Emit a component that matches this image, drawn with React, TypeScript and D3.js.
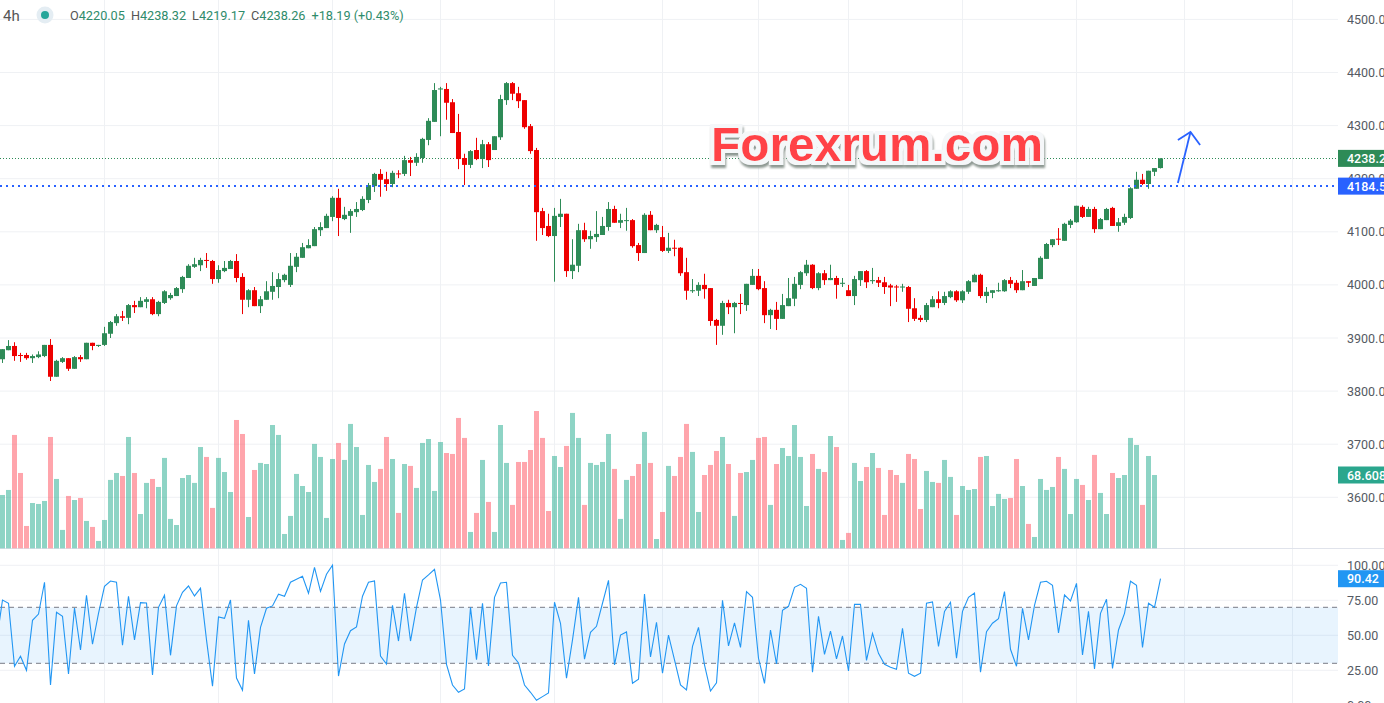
import React, { useEffect, useRef } from "react"
import * as d3 from "d3"

// 4h candles
const opens = [3860,3877,3885,3868,3868,3862,3864,3866,3887,3827,3855,3862,3842,3864,3860,3891,3885,3887,3908,3928,3941,3938,3962,3958,3968,3973,3945,3966,3975,3979,3992,4013,4034,4037,4047,4045,4011,4026,4030,4045,4015,3972,3990,3960,3972,3987,3996,4009,4000,4034,4051,4069,4073,4103,4107,4128,4164,4124,4130,4137,4141,4160,4186,4209,4199,4190,4210,4209,4235,4230,4239,4273,4307,4368,4369,4344,4288,4239,4226,4254,4237,4265,4254,4278,4348,4380,4361,4348,4299,4254,4139,4111,4092,4128,4134,4026,4036,4103,4086,4090,4094,4109,4143,4117,4121,4122,4075,4060,4132,4103,4090,4064,4070,4070,4024,3989,3989,4000,3994,3934,3923,3966,3958,3966,3962,4000,4017,3994,3943,3953,3936,3960,3974,4000,4022,4038,3994,4022,4009,4013,4002,3990,3979,4009,4026,4007,4009,4005,3999,3997,3995,3996,3956,3938,3934,3958,3973,3966,3977,3988,3971,3987,4005,4019,3979,3985,3988,3988,4009,4004,3990,4007,3998,4011,4049,4075,4087,4083,4113,4118,4147,4128,4143,4105,4122,4145,4111,4117,4126,4181,4198,4190,4213,4220.05]
const highs = [3879,3896,3892,3872,3872,3869,3875,3887,3898,3859,3864,3862,3866,3868,3891,3891,3887,3921,3932,3945,3951,3964,3970,3977,3977,3977,3970,3990,3985,3996,4017,4039,4051,4051,4060,4047,4037,4045,4047,4058,4022,3992,3996,3979,4007,4024,4022,4021,4060,4060,4079,4086,4109,4118,4134,4167,4181,4147,4143,4156,4167,4192,4211,4218,4213,4215,4216,4243,4241,4248,4277,4314,4380,4373,4380,4350,4322,4247,4254,4277,4273,4269,4280,4358,4382,4382,4373,4348,4303,4258,4145,4134,4145,4162,4134,4086,4115,4117,4102,4139,4128,4156,4149,4134,4145,4124,4079,4135,4139,4115,4111,4098,4085,4071,4051,4011,4005,4021,3994,3936,3970,3972,3968,3983,4002,4030,4030,4007,3955,3968,3983,4013,4015,4026,4047,4039,4024,4028,4038,4017,4013,4000,4017,4026,4028,4032,4015,4015,4002,4000,4002,3998,3975,3943,3966,3979,3988,3987,3990,3990,3990,4009,4021,4021,3996,3990,4004,4011,4015,4009,4028,4007,4013,4054,4079,4086,4107,4117,4124,4149,4150,4147,4147,4126,4145,4147,4126,4134,4184,4213,4209,4215,4220,4238.32]
const lows = [3853,3877,3857,3855,3859,3853,3862,3864,3819,3827,3853,3838,3842,3855,3860,3877,3883,3885,3900,3923,3932,3926,3947,3958,3956,3943,3941,3964,3972,3979,3985,4013,4032,4026,4032,4002,4004,4024,4030,4005,3945,3958,3960,3947,3972,3972,3975,4005,3996,4024,4051,4069,4073,4092,4107,4120,4092,4122,4098,4128,4139,4154,4175,4166,4177,4184,4201,4205,4205,4224,4230,4263,4307,4280,4311,4286,4218,4188,4220,4235,4220,4222,4254,4273,4339,4348,4333,4294,4247,4083,4094,4090,4006,4109,4015,4011,4024,4081,4068,4081,4094,4102,4117,4107,4102,4070,4045,4060,4103,4098,4062,4060,4054,4017,3972,3985,3979,3974,3923,3887,3906,3945,3909,3945,3951,4000,3990,3928,3917,3915,3936,3960,3960,3992,4017,3992,3990,4000,4009,3974,3996,3979,3962,3998,3994,4002,3996,3983,3960,3968,3987,3930,3932,3930,3930,3958,3956,3962,3975,3968,3966,3983,4005,3975,3966,3975,3987,3987,3994,3985,3990,3996,3998,4011,4049,4071,4075,4083,4107,4117,4126,4128,4098,4105,4122,4111,4100,4113,4124,4181,4188,4181,4205,4219.17]
const closes = [3879,3885,3866,3867,3862,3866,3869,3887,3827,3857,3862,3842,3864,3860,3891,3885,3887,3909,3930,3941,3938,3962,3958,3970,3973,3945,3968,3988,3981,3994,4015,4036,4039,4047,4046,4011,4028,4032,4045,4013,3972,3990,3960,3973,3988,3998,4011,4019,4036,4053,4071,4075,4105,4109,4130,4164,4126,4132,4139,4143,4162,4188,4209,4198,4190,4211,4209,4235,4230,4241,4275,4309,4367,4370,4343,4286,4237,4226,4252,4237,4265,4235,4280,4350,4380,4360,4346,4297,4252,4137,4107,4092,4130,4134,4026,4038,4103,4086,4092,4096,4111,4143,4117,4122,4122,4073,4060,4132,4103,4113,4064,4070,4069,4022,3989,3990,4000,3992,3932,3923,3966,3958,3966,3964,4002,4017,3992,3943,3953,3936,3962,3975,4002,4024,4038,3994,4022,4009,4013,4000,4004,3979,4011,4026,4005,4009,4004,3996,3995,3996,3997,3955,3936,3934,3962,3973,3966,3979,3988,3971,3988,4007,4019,3979,3987,3990,3990,4009,4002,3990,4007,4004,4013,4051,4077,4086,4086,4115,4121,4149,4128,4143,4105,4124,4143,4111,4118,4128,4182,4198,4190,4215,4220,4238.26]

// volume in thousands
const volumes = [49.9,54.6,106.1,70.5,20.9,42.4,41.5,44.3,104.2,64.9,17.2,49,45.2,47.1,25.6,20,6.9,26.5,64,70.5,67.7,104.2,70.5,32.1,61.2,64.9,57.4,84.6,27.5,21.8,65.8,68.6,61.2,94.8,85.5,37.8,84.6,71.4,52.7,120.1,107,29.3,73.3,79.9,78.9,115.4,106.1,13.4,30.3,69.6,58.3,52.7,97.7,85.5,28.4,83.6,98.6,82.7,116.4,94.8,31.2,78,62.1,74.3,104.2,83.6,33.1,78.9,77.1,56.5,98.6,102.3,53.7,99.5,89.2,88.3,122,103.3,15.3,33.1,82.7,43.4,15.3,115.4,79.9,40.6,80.8,80.8,92,128.5,103.3,34.9,86.4,76.1,95.8,126.7,103.3,40.6,79.9,78,80.8,107,74.3,27.5,64,67.7,78.9,108.9,79.9,8.7,34,77.1,67.7,85.5,116.4,90.2,34,68.6,78,91.1,104.2,78.9,30.3,70.5,71.4,82.7,103.3,104.2,40.6,78.9,93.9,86.4,115.4,85.5,39.6,88.3,74.3,71.4,105.1,94.8,7.8,14.4,79.9,63,76.1,89.2,75.2,31.2,73.3,68.6,61.2,88.3,83.6,36.8,72.4,62.1,61.2,82.7,66.8,31.2,58.3,54.6,55.5,85.5,86.4,39.6,50.9,46.2,47.1,83.6,58.3,22.8,10.6,64.9,54.6,57.4,85.5,74.3,32.1,64.9,59.3,45.2,87.4,51.8,32.1,70.5,65.8,68.6,103.3,96.7,40.6,86.4,68.608]

// first value belongs to the bar just off the left edge
const rsi = [45.5,75.2,72.9,27.9,35,25,60.7,65.2,87.9,14.5,66.4,63.6,22.4,69.5,39.5,78.6,43.6,65.7,85,88.8,87.9,42.9,77.9,46.7,73.3,73.1,21.7,70,78.6,35.7,71,80.7,85.2,78.1,83.6,46.7,13.6,63.1,62.1,75.2,19.5,10.7,60.7,22.4,55.7,69.3,71,79.3,77.9,87.9,90,92.1,80,98.6,81.4,93.6,100,20.9,43.8,53.3,56,77.9,87.9,88.8,35.2,29.5,71.4,45.9,80,45.9,70,89.5,93.1,97.1,75.2,29.3,14.5,9.3,11.7,70,32.6,72.9,28.1,77.1,87.4,87.9,35.7,30.2,14.5,9.3,3.6,6.2,8.8,73.6,58.6,19.3,46.7,77.1,32.9,52.1,56.4,72.9,89.3,28.8,50.2,52.4,15.7,18.6,79.5,34.5,59.3,22.9,50.2,32.4,14.5,11,42.1,55.7,28.8,10.2,16,75,42.4,58.8,41.4,81.2,77.1,33.6,15.7,53.8,29.5,67.9,70.7,84.3,86.4,83.6,23.6,63.6,36.4,52.9,33.1,49.5,24.5,72.1,72.1,32.1,51.4,37.1,29.3,27.1,25.7,55,22.9,20.7,22.9,72.9,73.8,42.1,67.1,73.6,33.6,67.1,77.1,80.2,23.6,52.6,58.6,61.9,81.2,40,27.9,69.3,46.7,71.4,87.9,88.6,85.7,51.7,78.8,74.5,87.1,35.9,67.1,25.9,65.7,75.7,26.4,53.8,65.7,88.6,85.7,41.4,72.9,70,90.42]

const priceTicks = [4500, 4400, 4300, 4200, 4100, 4000, 3900, 3800, 3700, 3600]
const rsiTicks = [100, 75, 50, 25, 0]
const gridBars = [17, 36, 55, 73, 92, 110, 126, 141, 160, 179, 197, 215]

const legendParts = [
  ["O", "4220.05"],
  ["H", "4238.32"],
  ["L", "4219.17"],
  ["C", "4238.26"],
]
const legendChange = "+18.19 (+0.43%)"

const lastPrice = 4238.26
const levelPrice = 4186
const lastVolume = 68.608
const lastRsi = 90.42

// bar number, price
const arrowShaft = [[195.9, 4192], [198, 4288]]
const arrowHead = [[195.9, 4273], [198, 4288], [199.6, 4263.5]]

const W = 1384
const H = 703
const AXIS_X = 1338
const FONT = "Roboto, sans-serif"
const UP = "#2e8b57"
const DOWN = "#ee0000"
const GRID = "#eff1f4"
const TEXT = "#555a63"

export default function App() {
  const svgRef = useRef<SVGSVGElement>(null)

  useEffect(() => {
    const svg = d3.select(svgRef.current)
    svg.selectAll("*").remove()

    const x = d3.scaleLinear().domain([0, 193]).range([2.5, 1160.5])
    const y = d3.scaleLinear().domain([3600, 4400]).range([497.3, 72.5])
    const yVol = d3.scaleLinear().domain([0, 68.608]).range([548.3, 475])
    const yRsi = d3.scaleLinear().domain([0, 100]).range([705.3, 565.3])
    const isUp = (i: number) => closes[i] >= opens[i]

    // Watermark outline and shadow
    const defs = svg.append("defs")
    const glow = defs.append("filter").attr("id", "mark-glow")
      .attr("x", "-5%").attr("y", "-30%").attr("width", "110%").attr("height", "170%")
    glow.append("feMorphology").attr("in", "SourceAlpha").attr("operator", "dilate").attr("radius", 0.4).attr("result", "thick")
    glow.append("feFlood").attr("flood-color", "#ff4347")
    glow.append("feComposite").attr("in2", "thick").attr("operator", "in").attr("result", "red")
    glow.append("feMorphology").attr("in", "SourceAlpha").attr("operator", "dilate").attr("radius", 3.5).attr("result", "wide")
    glow.append("feFlood").attr("flood-color", "#f5f7f9")
    glow.append("feComposite").attr("in2", "wide").attr("operator", "in").attr("result", "outline")
    glow.append("feOffset").attr("in", "wide").attr("dx", 1).attr("dy", 3).attr("result", "moved")
    glow.append("feGaussianBlur").attr("in", "moved").attr("stdDeviation", 1).attr("result", "soft")
    glow.append("feFlood").attr("flood-color", "#8d9892")
    glow.append("feComposite").attr("in2", "soft").attr("operator", "in").attr("result", "shadow")
    const merge = glow.append("feMerge")
    merge.append("feMergeNode").attr("in", "shadow")
    merge.append("feMergeNode").attr("in", "outline")
    merge.append("feMergeNode").attr("in", "red")

    // Grid
    const grid = svg.append("g").attr("stroke", GRID).attr("stroke-width", 1)
    grid.selectAll("line.v").data(gridBars).join("line").attr("class", "v")
      .attr("x1", (d) => Math.floor(x(d)) + 0.5).attr("x2", (d) => Math.floor(x(d)) + 0.5)
      .attr("y1", 0).attr("y2", H)
    grid.selectAll("line.h").data(priceTicks).join("line").attr("class", "h")
      .attr("x1", 0).attr("x2", AXIS_X)
      .attr("y1", (d) => y(d)).attr("y2", (d) => y(d))
    grid.selectAll("line.r").data(rsiTicks.slice(0, 4)).join("line").attr("class", "r")
      .attr("x1", 0).attr("x2", AXIS_X)
      .attr("y1", (d) => yRsi(d)).attr("y2", (d) => yRsi(d))

    // Pane separator
    svg.append("line").attr("x1", 0).attr("x2", W).attr("y1", 548.5).attr("y2", 548.5)
      .attr("stroke", "#e0e3eb")

    // Volume
    svg.append("g").selectAll("rect").data(volumes).join("rect")
      .attr("x", (_, i) => x(i) - 2.5)
      .attr("width", 5)
      .attr("y", (d) => yVol(d))
      .attr("height", (d) => yVol(0) - yVol(d))
      .attr("fill", (_, i) => (isUp(i) ? "rgba(30,170,140,0.5)" : "rgba(255,75,90,0.5)"))

    // RSI band and bounds
    svg.append("rect").attr("x", 0).attr("width", AXIS_X)
      .attr("y", yRsi(70)).attr("height", yRsi(30) - yRsi(70))
      .attr("fill", "rgba(33,150,243,0.1)")
    svg.append("g").selectAll("line").data([70, 30]).join("line")
      .attr("x1", 0).attr("x2", AXIS_X)
      .attr("y1", (d) => yRsi(d)).attr("y2", (d) => yRsi(d))
      .attr("stroke", "#787b86").attr("stroke-dasharray", "5,4")

    const rsiLine = d3.line<number>().x((_, i) => x(i - 1)).y((d) => yRsi(d))
    svg.append("path").datum(rsi).attr("d", rsiLine)
      .attr("fill", "none").attr("stroke", "#2196f3").attr("stroke-width", 1.1)

    // Last price line
    svg.append("line").attr("x1", 0).attr("x2", AXIS_X)
      .attr("y1", Math.round(y(lastPrice)) + 0.5).attr("y2", Math.round(y(lastPrice)) + 0.5)
      .attr("stroke", UP).attr("stroke-dasharray", "1,2")

    // Candles
    const candles = svg.append("g").selectAll("g").data(opens).join("g")
      .attr("fill", (_, i) => (isUp(i) ? UP : DOWN))
      .attr("stroke", (_, i) => (isUp(i) ? UP : DOWN))
    candles.append("line")
      .attr("x1", (_, i) => x(i)).attr("x2", (_, i) => x(i))
      .attr("y1", (_, i) => y(highs[i])).attr("y2", (_, i) => y(lows[i]))
      .attr("stroke-width", 1)
    candles.append("rect")
      .attr("x", (_, i) => x(i) - 2.5)
      .attr("width", 5)
      .attr("y", (d, i) => y(Math.max(d, closes[i])))
      .attr("height", (d, i) => Math.max(1, Math.abs(y(d) - y(closes[i]))))
      .attr("stroke", "none")

    // Level line
    svg.append("line").attr("x1", 0).attr("x2", AXIS_X)
      .attr("y1", Math.round(y(levelPrice))).attr("y2", Math.round(y(levelPrice)))
      .attr("stroke", "#2962ff").attr("stroke-width", 2).attr("stroke-dasharray", "2,4")

    // Watermark
    svg.append("text").attr("x", 711).attr("y", 161)
      .attr("font-family", "'Liberation Sans', Arial, sans-serif")
      .attr("font-weight", 700).attr("font-size", 47.8)
      .attr("fill", "#ff4347").attr("filter", "url(#mark-glow)")
      .text("Forexrum.com")

    // Arrow
    const arrow = d3.line<number[]>().x((d) => x(d[0])).y((d) => y(d[1]))
    svg.append("g").attr("fill", "none").attr("stroke", "#2962ff").attr("stroke-width", 1.8)
      .selectAll("path").data([arrowShaft, arrowHead]).join("path").attr("d", (d) => arrow(d))

    // Right scale
    const axisText = svg.append("g").attr("font-family", FONT).attr("font-size", 12.5).attr("fill", TEXT)
    axisText.selectAll("text.p").data(priceTicks).join("text").attr("class", "p")
      .attr("x", 1347).attr("y", (d) => y(d) + 4.5).text((d) => d3.format(".2f")(d))
    axisText.selectAll("text.r").data(rsiTicks).join("text").attr("class", "r")
      .attr("x", 1347).attr("y", (d) => yRsi(d) + 4.5).text((d) => d3.format(".2f")(d))

    const tags = [
      { v: y(lastPrice), t: d3.format(".2f")(lastPrice), c: UP },
      { v: y(levelPrice), t: "4184.50", c: "#2962ff" },
      { v: yVol(lastVolume), t: `${lastVolume}K`, c: "#2aa68d" },
      { v: yRsi(lastRsi), t: d3.format(".2f")(lastRsi), c: "#2196f3" },
    ]
    const tag = svg.append("g").selectAll("g").data(tags).join("g")
    tag.append("rect").attr("x", AXIS_X).attr("width", W - AXIS_X).attr("height", 17)
      .attr("y", (d) => d.v - 8.5).attr("fill", (d) => d.c)
    tag.append("text").attr("x", 1347).attr("y", (d) => d.v + 4.5)
      .attr("font-family", FONT).attr("font-size", 12.5).attr("font-weight", 500)
      .attr("fill", "#fff").text((d) => d.t)

    // Legend
    svg.append("text").attr("x", 3).attr("y", 21).attr("font-family", FONT).attr("font-size", 15)
      .attr("fill", "#555").text("4h")
    svg.append("circle").attr("cx", 45).attr("cy", 15).attr("r", 8.5).attr("fill", "#e4edf3")
    svg.append("circle").attr("cx", 45).attr("cy", 15).attr("r", 4).attr("fill", "#26a69a")
    const legend = svg.append("text").attr("x", 70).attr("y", 20)
      .attr("font-family", FONT).attr("font-size", 12.7).attr("fill", "#2e8b6a")
    legendParts.forEach(([k, v], i) => {
      legend.append("tspan").attr("fill", "#555").attr("dx", i ? 6 : 0).text(k)
      legend.append("tspan").text(v)
    })
    legend.append("tspan").attr("dx", 6).text(legendChange)
  }, [])

  return (
    <svg
      ref={svgRef}
      width={W}
      height={H}
      style={{ position: "absolute", left: 0, top: 0, display: "block", background: "#fff" }}
    />
  )
}
